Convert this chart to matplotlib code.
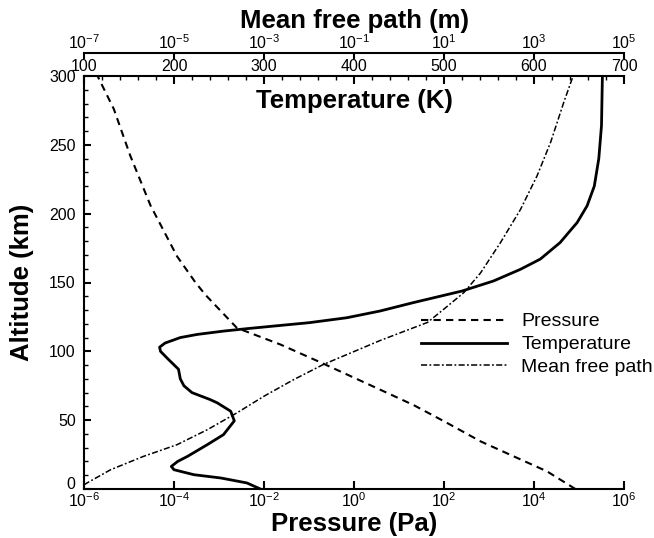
import matplotlib
matplotlib.use("Agg")
import matplotlib.pyplot as plt
from matplotlib.ticker import MultipleLocator, NullLocator, FixedLocator

# pressure profile: altitude (km) vs pressure (Pa)
alt_p = [0, 12.8, 23.7, 34.6, 48, 61, 72, 92, 105, 117, 141, 150, 169, 206, 242, 276, 300]
pressure_pa = [8.3e4, 1.95e4, 3.55e3, 6.5e2, 1.17e2, 2.1e1, 3.9, 1.8e-1, 2.3e-2, 2.5e-3,
               5.0e-4, 3.0e-4, 1.17e-4, 3.0e-5, 1.07e-5, 4.6e-6, 2.0e-6]

# temperature profile: altitude (km) vs temperature (K)
alt_t = [0, 4.4, 8, 10.4, 14, 16.4, 20, 23.7, 32.2, 39.5, 49.5, 56.5, 62.6, 65, 70, 75, 80,
         87, 94, 100, 103, 106, 110, 112.3, 114.7, 116.4, 118.3, 120.8, 124.4, 129.3,
         135.4, 143.8, 151.1, 159.6, 167, 179, 193.6, 205.7, 220, 240, 264, 300]
temp_k = [296, 281, 252, 222, 200, 197, 204, 215, 237, 255, 267, 263, 248, 240, 220, 211, 207,
          205, 194, 185, 184, 190, 207, 226, 255, 280, 310, 350, 392, 429,
          466, 520, 555, 585, 607, 629, 648, 659, 667, 672, 675, 676]

# mean free path: altitude (km) vs mean free path (m)
alt_m = [3, 4.4, 14, 23.7, 32.2, 43.2, 55.3, 67.4, 79.5, 90.5, 108, 121, 130.5, 142.6,
         157, 179, 203, 227.5, 252, 281, 300]
mfp_m = [1.0e-7, 1.17e-7, 3.9e-7, 2.1e-6, 1.17e-5, 5.6e-5, 2.5e-4, 1.0e-3, 4.6e-3, 2.1e-2,
         3.9e-1, 4.3, 9.8, 2.75e1, 6.5e1, 1.8e2, 5.0e2, 1.17e3, 2.35e3, 4.6e3, 7.4e3]

p_ticks = [1e-6, 1e-4, 1e-2, 1e0, 1e2, 1e4, 1e6]
t_ticks = [100, 200, 300, 400, 500, 600, 700]
m_ticks = [1e-7, 1e-5, 1e-3, 1e-1, 1e1, 1e3, 1e5]

plt.rcParams["font.family"] = ["Liberation Sans", "DejaVu Sans"]
plt.rcParams["mathtext.fontset"] = "custom"
plt.rcParams["mathtext.rm"] = "Liberation Sans"
plt.rcParams["mathtext.it"] = "Liberation Sans:italic"
plt.rcParams["mathtext.bf"] = "Liberation Sans:bold"

TICK_FS = 11.5
TITLE_FS = 18.5
LW_SPINE = 1.5

fig = plt.figure(figsize=(6.54, 5.38), dpi=100)
ax = fig.add_axes([84 / 654, 1 - 489 / 538, 540 / 654, 413 / 538])
ax_t = ax.twiny()
ax_m = ax.twiny()

# pressure (bottom axis)
l_p, = ax.plot(pressure_pa, alt_p, color="black", lw=1.5, ls=(0, (3.5, 2.5)), label="Pressure")
ax.set_xscale("log")
ax.set_xlim(1e-6, 1e6)
ax.set_ylim(0, 300)
ax.xaxis.set_major_locator(FixedLocator(p_ticks))
ax.xaxis.set_minor_locator(NullLocator())
ax.yaxis.set_major_locator(MultipleLocator(50))
ax.yaxis.set_minor_locator(MultipleLocator(10))
ax.tick_params(axis="x", which="major", direction="in", length=6, width=LW_SPINE,
               labelsize=TICK_FS, pad=2)
ax.tick_params(axis="y", which="major", direction="in", length=5, width=LW_SPINE,
               labelsize=TICK_FS, pad=6)
ax.tick_params(axis="y", which="minor", direction="in", length=3, width=1)

# temperature (top axis)
l_t, = ax_t.plot(temp_k, alt_t, color="black", lw=2.0, label="Temperature")
ax_t.set_xlim(100, 700)
ax_t.xaxis.set_major_locator(FixedLocator(t_ticks))
ax_t.xaxis.set_minor_locator(MultipleLocator(20))
ax_t.tick_params(axis="x", which="major", direction="in", length=6, width=LW_SPINE,
                 labelsize=TICK_FS, pad=1.5)
ax_t.tick_params(axis="x", which="minor", direction="in", length=3, width=1)

# mean free path (offset top axis)
l_m, = ax_m.plot(mfp_m, alt_m, color="black", lw=1.1, ls=(0, (4, 1.5, 1.2, 1.5)),
                 label="Mean free path")
ax_m.set_xscale("log")
ax_m.set_xlim(1e-7, 1e5)
ax_m.xaxis.set_major_locator(FixedLocator(m_ticks))
ax_m.xaxis.set_minor_locator(NullLocator())
ax_m.spines["top"].set_position(("outward", 16.5))
ax_m.tick_params(axis="x", which="major", direction="in", length=4, width=LW_SPINE,
                 labelsize=TICK_FS, pad=1)

for a in (ax, ax_t, ax_m):
    for s in a.spines.values():
        s.set_linewidth(LW_SPINE)
    a.spines["right"].set_visible(False)
for s in ("left", "bottom"):
    ax_t.spines[s].set_visible(False)
    ax_m.spines[s].set_visible(False)
ax.spines["top"].set_visible(False)

fig.text(354 / 654, 1 - 28 / 538, "Mean free path (m)", fontsize=TITLE_FS, fontweight="bold",
         ha="center", va="baseline")
fig.text(354 / 654, 1 - 108 / 538, "Temperature (K)", fontsize=TITLE_FS, fontweight="bold",
         ha="center", va="baseline")
fig.text(354 / 654, 1 - 531 / 538, "Pressure (Pa)", fontsize=TITLE_FS, fontweight="bold",
         ha="center", va="baseline")
fig.text(22 / 654, 1 - 282 / 538, "Altitude (km)", fontsize=TITLE_FS, fontweight="bold",
         ha="center", va="center", rotation=90)

fig.legend(handles=[l_p, l_t, l_m], loc="center left",
           bbox_to_anchor=(421 / 654, 1 - 344.5 / 538), frameon=False,
           fontsize=14, handlelength=4.4, handletextpad=0.75, labelspacing=0.27,
           borderpad=0, borderaxespad=0)

# lift the "0" label so it sits above the first pressure label
fig.canvas.draw()
for tick in ax.yaxis.get_major_ticks():
    if tick.get_loc() == 0:
        tick.label1.set_verticalalignment("baseline")

fig.savefig("out.png", dpi=100)
